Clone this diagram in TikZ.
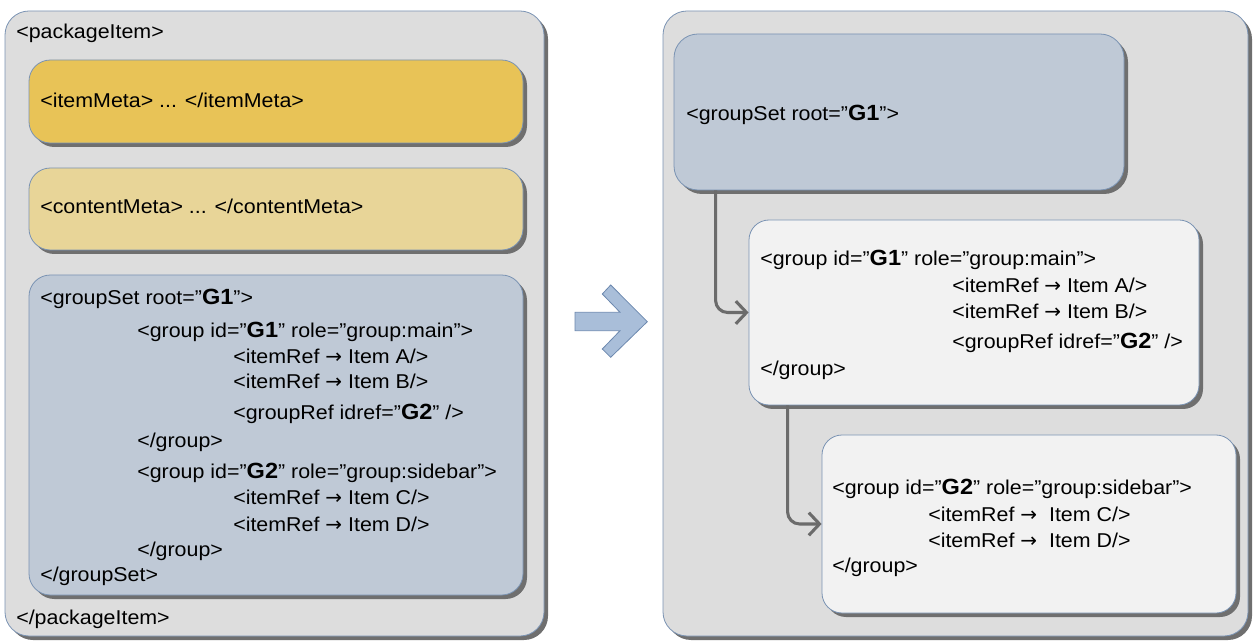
\documentclass[tikz,border=0pt]{standalone}
\usepackage{fontspec}
\setmainfont{Liberation Sans}[FakeStretch=1.07]
\newfontfamily\arrowfont{DejaVu Sans}
\usetikzlibrary{shadows,fit,arrows.meta}
\definecolor{outerfill}{HTML}{DDDDDD}
\definecolor{bordercol}{HTML}{7A93B3}
\definecolor{shadowcol}{HTML}{6F6F6F}
\definecolor{itemfill}{HTML}{E8C357}
\definecolor{contfill}{HTML}{E8D598}
\definecolor{gsfill}{HTML}{BFC9D6}
\definecolor{grpfill}{HTML}{F2F2F2}
\definecolor{arrowfill}{HTML}{A9BED9}
\definecolor{arrowdraw}{HTML}{6C88AE}
\definecolor{conncol}{HTML}{6B6B6B}
\newcommand\gid[1]{{\fontsize{16.5pt}{18pt}\selectfont\bfseries #1}}
\newcommand\rarr{{\arrowfont →}}
\begin{document}
\begin{tikzpicture}[x=0.75pt,y=-0.75pt,
  box/.style={draw=bordercol, line width=0.6pt, rounded corners=#1, inner sep=0pt,
    drop shadow={shadow xshift=3pt, shadow yshift=-3pt, fill=shadowcol, opacity=1}},
  txt/.style={anchor=base west, inner sep=0pt, font=\fontsize{15pt}{18pt}\selectfont},
  conn/.style={draw=conncol, line width=2.3pt, rounded corners=9pt,
    -{Straight Barb[length=8pt,width=17pt]}},
  bigarrow/.style={fill=arrowfill, draw=arrowdraw, line width=0.6pt, line join=miter}]
\useasboundingbox (0,0) rectangle (1253,641);

% outer containers
\node[box=18pt, fill=outerfill, fit={(5,11) (544,636)}] (L) {};
\node[box=18pt, fill=outerfill, fit={(663,11) (1248,636)}] (R) {};

% left inner boxes
\node[box=16pt, fill=itemfill, fit={(29,60) (523,143)}] (IM) {};
\node[box=16pt, fill=contfill, fit={(29,168) (523,250)}] (CM) {};
\node[box=16pt, fill=gsfill, fit={(29,275) (523,595)}] (GSL) {};

% right boxes
\node[box=18pt, fill=gsfill, fit={(674,34) (1124,190)}] (GSR) {};
\node[box=15pt, fill=grpfill, fit={(749,220) (1199,405)}] (G1R) {};
\node[box=15pt, fill=grpfill, fit={(822,435) (1236,613)}] (G2R) {};

% left texts
\node[txt] (t1) at (16,39) {<packageItem>};
\node[txt] (t2) at (40,108) {<itemMeta> ... </itemMeta>};
\node[txt] (t3) at (40,214) {<contentMeta> ... </contentMeta>};
\node[txt] (l1) at (40,305) {<groupSet root=”\gid{G1}”>};
\node[txt] (l2) at (137,338) {<group id=”\gid{G1}" role=”group:main”>};
\node[txt] (l3) at (233,364) {<itemRef \rarr{} Item A/>};
\node[txt] (l4) at (233,389) {<itemRef \rarr{} Item B/>};
\node[txt] (l5) at (233,420) {<groupRef idref=”\gid{G2}" />};
\node[txt] (l6) at (137,448) {</group>};
\node[txt] (l7) at (137,478) {<group id=”\gid{G2}" role=”group:sidebar”>};
\node[txt] (l8) at (233,504) {<itemRef \rarr{} Item C/>};
\node[txt] (l9) at (233,531) {<itemRef \rarr{} Item D/>};
\node[txt] (l10) at (137,556) {</group>};
\node[txt] (l11) at (40,581) {</groupSet>};
\node[txt] (t4) at (16,624) {</packageItem>};

% right texts
\node[txt] (r1) at (686,121) {<groupSet root=”\gid{G1}”>};
\node[txt] (r2) at (760,266) {<group id=”\gid{G1}" role=”group:main”>};
\node[txt] (r3) at (952,293) {<itemRef \rarr{} Item A/>};
\node[txt] (r4) at (952,319) {<itemRef \rarr{} Item B/>};
\node[txt] (r5) at (952,349) {<groupRef idref=”\gid{G2}" />};
\node[txt] (r6) at (760,376) {</group>};
\node[txt] (r7) at (832,494) {<group id=”\gid{G2}" role=”group:sidebar”>};
\node[txt] (r8) at (928,521) {<itemRef \rarr\ \ Item C/>};
\node[txt] (r9) at (928,547) {<itemRef \rarr\ \ Item D/>};
\node[txt] (r10) at (832,572) {</group>};

% connectors
\draw[conn] ([xshift=31.5pt]GSR.south west) |- (G1R.west);
\draw[conn] ([xshift=29.25pt]G1R.south west) |- (G2R.west);

% big arrow
\draw[bigarrow] (575,312.3) -- (620,312.3) -- (602.3,294) -- (610.7,285) -- (647.3,321.7)
  -- (610.7,357.3) -- (602.3,349) -- (620,330.7) -- (575,330.7) -- cycle;
\end{tikzpicture}
\end{document}
